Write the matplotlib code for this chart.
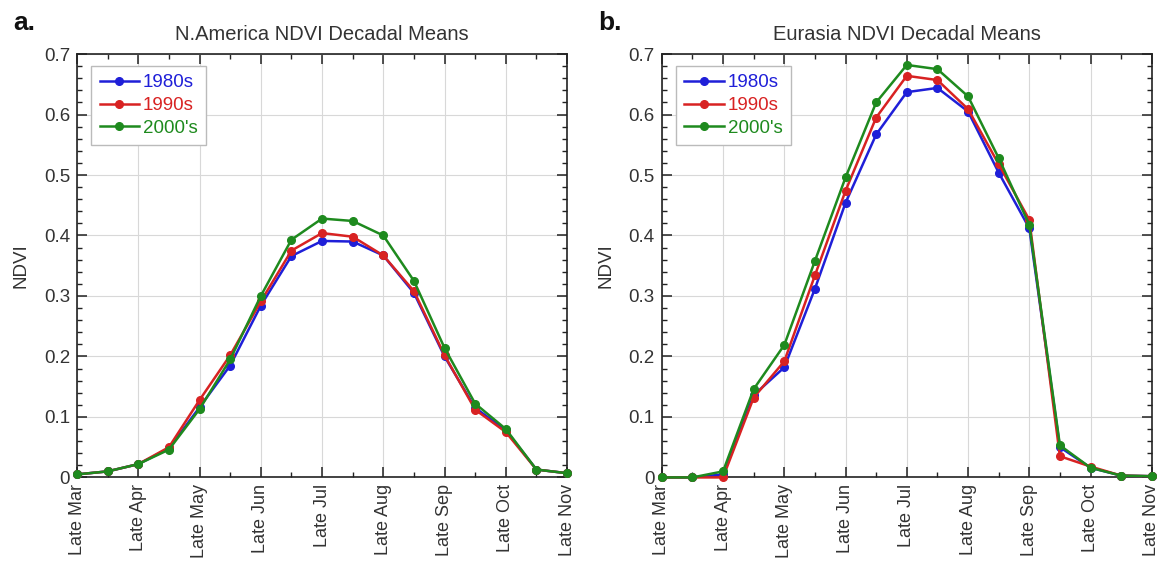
import numpy as np
import matplotlib
matplotlib.use("Agg")
import matplotlib.pyplot as plt
from matplotlib.ticker import MultipleLocator

plt.rcParams["font.family"] = ["Liberation Sans", "DejaVu Sans"]

# Data
month_labels = ["Late Mar", "Late Apr", "Late May", "Late Jun", "Late Jul",
                "Late Aug", "Late Sep", "Late Oct", "Late Nov"]
x = np.arange(17)  # half-month steps
y_ticks = [0, 0.1, 0.2, 0.3, 0.4, 0.5, 0.6, 0.7]
y_labels = ["0", "0.1", "0.2", "0.3", "0.4", "0.5", "0.6", "0.7"]

na_1980 = [0.005, 0.010, 0.022, 0.048, 0.116, 0.185, 0.284, 0.366, 0.391,
           0.390, 0.367, 0.305, 0.200, 0.115, 0.078, 0.013, 0.007]
na_1990 = [0.005, 0.010, 0.022, 0.050, 0.128, 0.202, 0.291, 0.375, 0.404,
           0.398, 0.367, 0.308, 0.202, 0.112, 0.075, 0.013, 0.007]
na_2000 = [0.005, 0.010, 0.022, 0.046, 0.113, 0.195, 0.300, 0.393, 0.428,
           0.424, 0.400, 0.325, 0.214, 0.122, 0.080, 0.013, 0.007]

eu_1980 = [0.0, 0.0, 0.005, 0.136, 0.182, 0.312, 0.454, 0.567, 0.637,
           0.644, 0.605, 0.504, 0.412, 0.050, 0.016, 0.003, 0.002]
eu_1990 = [0.0, 0.0, 0.0, 0.132, 0.192, 0.334, 0.474, 0.595, 0.664,
           0.657, 0.609, 0.518, 0.426, 0.035, 0.018, 0.003, 0.002]
eu_2000 = [0.0, 0.0, 0.010, 0.146, 0.219, 0.358, 0.496, 0.620, 0.682,
           0.675, 0.630, 0.528, 0.418, 0.053, 0.016, 0.003, 0.002]

series_names = ["1980s", "1990s", "2000's"]
colors = ["#1f1fd8", "#d82222", "#1e8a1e"]

fig = plt.figure(figsize=(11.57, 5.63), dpi=100)
ax1 = fig.add_axes([0.0666, 0.152, 0.4235, 0.752])
ax2 = fig.add_axes([0.572, 0.152, 0.4235, 0.752])

panels = [
    (ax1, [na_1980, na_1990, na_2000], "N.America NDVI Decadal Means", "a."),
    (ax2, [eu_1980, eu_1990, eu_2000], "Eurasia NDVI Decadal Means", "b."),
]

for ax, data, title, tag in panels:
    for vals, name, c in zip(data, series_names, colors):
        ax.plot(x, vals, color=c, lw=1.8, marker="o", ms=5.5,
                label=name, clip_on=False, zorder=3)

    ax.set_xlim(0, 16)
    ax.set_ylim(0, 0.7)
    ax.set_xticks(np.arange(0, 17, 2))
    ax.set_xticklabels(month_labels, rotation=90, fontsize=13)
    ax.xaxis.set_minor_locator(MultipleLocator(1))
    ax.set_yticks(y_ticks)
    ax.set_yticklabels(y_labels, fontsize=13.5)
    ax.yaxis.set_minor_locator(MultipleLocator(0.02))
    ax.tick_params(which="both", direction="in", top=True, right=True,
                   colors="#222222", labelcolor="#333333")
    ax.tick_params(which="major", length=7, width=1.1, pad=5)
    ax.tick_params(which="minor", length=3.5, width=1.0)
    ax.grid(True, which="major", color="#d8d8d8", lw=0.8)
    ax.set_axisbelow(True)
    for s in ax.spines.values():
        s.set_linewidth(1.2)
        s.set_color("#222222")

    ax.set_ylabel("NDVI", fontsize=13.5, color="#333333", labelpad=10)
    ax.set_title(title, fontsize=14.5, color="#333333", pad=10)

    leg = ax.legend(loc="upper left", bbox_to_anchor=(0.029, 0.972),
                    borderaxespad=0, fontsize=13.5, handlelength=2.1,
                    handletextpad=0.2, borderpad=0.45, labelspacing=0.3,
                    fancybox=False, framealpha=1, edgecolor="#bbbbbb")
    for txt, c in zip(leg.get_texts(), colors):
        txt.set_color(c)

    ax.text(-0.13, 1.045, tag, transform=ax.transAxes, fontsize=19,
            fontweight="bold", color="#111111", ha="left", va="bottom")

plt.savefig("out.png", dpi=100)
